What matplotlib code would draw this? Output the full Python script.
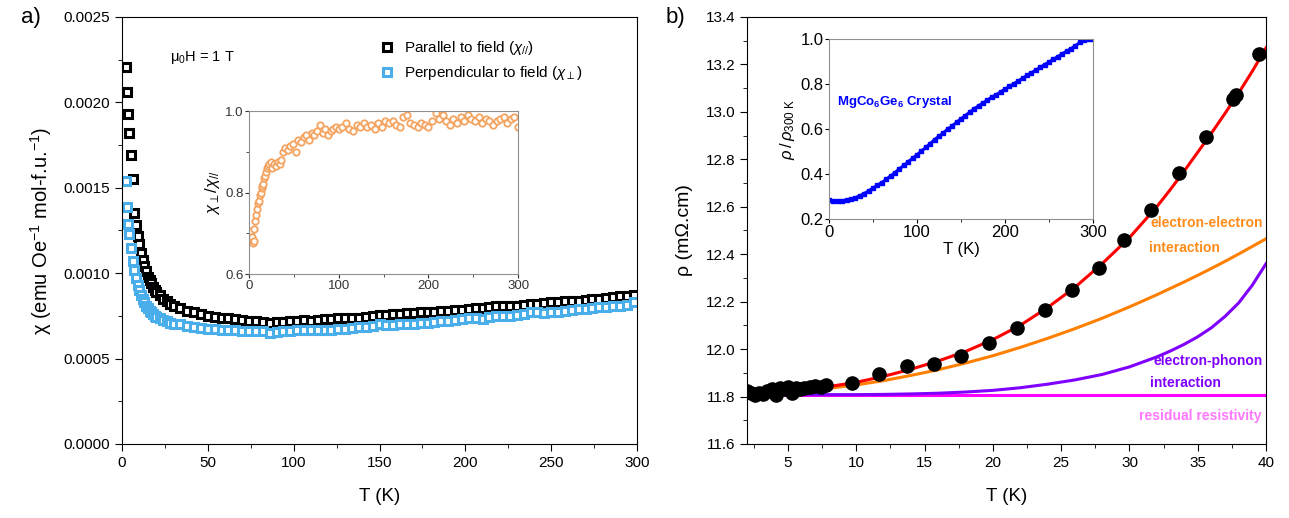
import matplotlib
matplotlib.use("Agg")
import matplotlib.pyplot as plt
import numpy as np
from matplotlib.ticker import MultipleLocator, FormatStrFormatter

plt.rcParams['font.family'] = ['Liberation Sans', 'DejaVu Sans']
plt.rcParams['mathtext.fontset'] = 'custom'
plt.rcParams['mathtext.rm'] = 'Liberation Sans'
plt.rcParams['mathtext.it'] = 'Liberation Sans:italic'
plt.rcParams['mathtext.bf'] = 'Liberation Sans:bold'

# ---- panel a: susceptibility (values in 1e-4 emu/Oe/mol-f.u.) ----
T_chi = [2.4, 3.0, 3.5, 4.2, 5.0, 6.2, 7, 8, 9, 10, 11, 12, 13, 14, 15, 16, 17, 18, 19, 20,
         22, 24, 26, 28, 30, 34, 38, 42, 46, 50, 54, 58, 62, 66, 70, 74, 78, 82, 86, 90,
         94, 98, 102, 106, 110, 114, 118, 122, 126, 130, 134, 138, 142, 146, 150, 154, 158,
         162, 166, 170, 174, 178, 182, 186, 190, 194, 198, 202, 206, 210, 214, 218, 222, 226,
         230, 234, 238, 242, 246, 250, 254, 258, 262, 266, 270, 274, 278, 282, 286, 290, 294, 298]
chi_par = [22.1, 20.6, 19.3, 18.2, 16.9, 15.5, 13.5, 12.8, 12.2, 11.7, 11.2, 10.8, 10.4, 10.1,
           9.8, 9.6, 9.4, 9.2, 9.0, 8.9, 8.7, 8.5, 8.4, 8.2, 8.1, 7.95, 7.8, 7.7, 7.6, 7.5,
           7.45, 7.4, 7.35, 7.3, 7.25, 7.2, 7.2, 7.15, 7.1, 7.15, 7.15, 7.2, 7.2, 7.25, 7.2,
           7.25, 7.3, 7.3, 7.35, 7.35, 7.4, 7.4, 7.45, 7.5, 7.55, 7.55, 7.6, 7.6, 7.65, 7.65,
           7.7, 7.75, 7.75, 7.8, 7.8, 7.85, 7.85, 7.9, 7.95, 7.95, 8.0, 8.05, 8.05, 8.1, 8.1,
           8.15, 8.2, 8.2, 8.25, 8.3, 8.3, 8.35, 8.4, 8.4, 8.45, 8.5, 8.5, 8.55, 8.6, 8.65, 8.65, 8.7]
chi_perp = [15.4, 13.9, 12.9, 12.3, 11.5, 10.7, 10.2, 9.7, 9.3, 9.0, 8.7, 8.5, 8.3, 8.1, 7.95,
            7.8, 7.7, 7.6, 7.5, 7.45, 7.35, 7.25, 7.2, 7.1, 7.05, 7.0, 6.9, 6.85, 6.8, 6.75,
            6.75, 6.7, 6.7, 6.65, 6.6, 6.6, 6.6, 6.6, 6.5, 6.55, 6.6, 6.6, 6.65, 6.65, 6.7,
            6.65, 6.7, 6.7, 6.75, 6.75, 6.8, 6.85, 6.85, 6.9, 7.0, 6.95, 6.95, 7.0, 7.0, 7.05,
            7.1, 7.1, 7.15, 7.2, 7.2, 7.25, 7.3, 7.35, 7.4, 7.3, 7.45, 7.5, 7.5, 7.5, 7.55,
            7.6, 7.7, 7.7, 7.65, 7.75, 7.75, 7.8, 7.85, 7.9, 7.9, 7.95, 8.0, 8.0, 8.05, 8.1, 8.15, 8.3]

# inset a: chi_perp / chi_par
T_ratio = [2, 3, 4, 5, 6, 7, 8, 9, 10, 11, 12, 13, 14, 15, 16, 17, 18, 19, 20, 21, 22, 24, 26,
           28, 30, 32, 34, 36, 38, 40, 43, 46, 49, 52, 55, 58, 61, 64, 67, 70, 73, 76, 79, 82,
           85, 88, 91, 94, 97, 100, 104, 108, 112, 116, 120, 124, 128, 132, 136, 140, 144, 148,
           152, 156, 160, 164, 168, 172, 176, 180, 184, 188, 192, 196, 200, 204, 208, 212, 216,
           220, 224, 228, 232, 236, 240, 244, 248, 252, 256, 260, 264, 268, 272, 276, 280, 284,
           288, 292, 296, 300]
ratio = [0.705, 0.69, 0.675, 0.68, 0.71, 0.73, 0.745, 0.76, 0.775, 0.78, 0.795, 0.80, 0.81,
         0.815, 0.82, 0.835, 0.84, 0.85, 0.86, 0.865, 0.87, 0.875, 0.86, 0.87, 0.865, 0.875,
         0.87, 0.88, 0.90, 0.91, 0.905, 0.915, 0.92, 0.90, 0.93, 0.925, 0.935, 0.94, 0.93,
         0.945, 0.94, 0.95, 0.965, 0.945, 0.955, 0.94, 0.95, 0.955, 0.96, 0.955, 0.96, 0.97,
         0.955, 0.95, 0.965, 0.96, 0.97, 0.96, 0.965, 0.955, 0.97, 0.96, 0.975, 0.97, 0.975,
         0.965, 0.96, 0.985, 0.99, 0.97, 0.965, 0.96, 0.97, 0.965, 0.96, 0.975, 0.995, 0.98,
         0.99, 0.975, 0.965, 0.98, 0.97, 0.985, 0.975, 0.99, 0.98, 0.975, 0.985, 0.97, 0.98,
         0.975, 0.965, 0.975, 0.98, 0.985, 0.97, 0.98, 0.985, 0.96]

# ---- panel b: resistivity (mOhm.cm) ----
T_rho = [2.0, 2.3, 2.6, 2.9, 3.2, 3.5, 3.8, 4.1, 4.4, 4.7, 5.0, 5.3, 5.6, 5.9, 6.2, 6.6, 7.0,
         7.4, 7.8, 9.7, 11.7, 13.7, 15.7, 17.7, 19.7, 21.8, 23.8, 25.8, 27.8, 29.6, 31.6,
         33.6, 35.6, 37.6, 37.8, 39.5]
rho = [11.825, 11.815, 11.805, 11.815, 11.81, 11.825, 11.83, 11.805, 11.835, 11.83, 11.84,
       11.815, 11.835, 11.83, 11.835, 11.84, 11.845, 11.84, 11.85, 11.858, 11.897, 11.928,
       11.939, 11.971, 12.026, 12.09, 12.165, 12.249, 12.341, 12.46, 12.586, 12.742, 12.894,
       13.054, 13.07, 13.244]

T_fit = [2, 4, 6, 8, 10, 12, 14, 16, 18, 20, 22, 24, 26, 28, 30, 32, 33, 34, 35, 36, 37, 38,
         39, 40]
rho_total = [11.815, 11.82, 11.83, 11.842, 11.86, 11.885, 11.915, 11.95, 11.99, 12.04, 12.10,
             12.175, 12.26, 12.36, 12.47, 12.60, 12.673, 12.75, 12.83, 12.91, 12.994, 13.08,
             13.172, 13.27]
rho_ee = [11.81, 11.815, 11.823, 11.835, 11.849, 11.867, 11.889, 11.913, 11.941, 11.972,
          12.007, 12.045, 12.086, 12.13, 12.178, 12.229, 12.256, 12.283, 12.311, 12.34,
          12.37, 12.401, 12.433, 12.465]
rho_ep = [11.808, 11.808, 11.808, 11.808, 11.808, 11.809, 11.811, 11.814, 11.819, 11.826,
          11.837, 11.852, 11.87, 11.893, 11.925, 11.967, 11.992, 12.02, 12.052, 12.09, 12.138,
          12.195, 12.27, 12.36]
rho_0 = [11.808] * len(T_fit)

# inset b: rho / rho_300K
T_norm = list(range(0, 301, 5))
rho_norm = [0.283, 0.281, 0.279, 0.281, 0.284, 0.287, 0.295, 0.303, 0.313, 0.325, 0.337,
            0.350, 0.362, 0.376, 0.391, 0.406, 0.423, 0.438, 0.454, 0.470, 0.485, 0.502,
            0.518, 0.535, 0.553, 0.568, 0.583, 0.600, 0.614, 0.630, 0.645, 0.660, 0.675,
            0.690, 0.703, 0.716, 0.728, 0.742, 0.752, 0.765, 0.777, 0.790, 0.801, 0.813,
            0.826, 0.838, 0.850, 0.862, 0.874, 0.886, 0.898, 0.910, 0.922, 0.934, 0.946,
            0.957, 0.970, 0.985, 0.995, 1.0, 1.0]

fig = plt.figure(figsize=(12.89, 5.18), dpi=100)

# ---------- panel a ----------
ax1 = fig.add_axes([0.0947, 0.1429, 0.3995, 0.8243])
ax1.plot(T_chi, np.array(chi_par) * 1e-4, 's', ms=5.5, mfc='white', mec='black', mew=2.2,
         label=r'Parallel to field ($\chi_{//}$)')
ax1.plot(T_chi, np.array(chi_perp) * 1e-4, 's', ms=5.5, mfc='white', mec='#4AAEEA', mew=2.2,
         label=r'Perpendicular to field ($\chi_{\perp}$)')
ax1.set_xlim(0, 300)
ax1.set_ylim(0, 0.0025)
ax1.xaxis.set_major_locator(MultipleLocator(50))
ax1.xaxis.set_minor_locator(MultipleLocator(25))
ax1.yaxis.set_major_locator(MultipleLocator(0.0005))
ax1.yaxis.set_minor_locator(MultipleLocator(0.00025))
ax1.yaxis.set_major_formatter(FormatStrFormatter('%.4f'))
ax1.tick_params(which='both', direction='out', labelsize=11, top=False, right=False)
ax1.tick_params(which='major', length=5)
ax1.tick_params(which='minor', length=3)
ax1.set_xlabel('T (K)', fontsize=13.5, labelpad=13)
ax1.set_ylabel(r'χ (emu Oe$^{-1}$ mol-f.u.$^{-1}$)', fontsize=14.5, labelpad=7)
ax1.text(0.093, 0.905, r'μ$_0$H = 1 T', transform=ax1.transAxes, fontsize=10.5, va='center')
ax1.legend(loc='upper left', bbox_to_anchor=(0.47, 0.98), frameon=False, fontsize=11,
           handletextpad=0.5, handlelength=1.2, labelspacing=0.45, markerscale=1.0)

ins1 = fig.add_axes([0.1932, 0.4710, 0.2087, 0.3147])
ins1.plot(T_ratio, ratio, 'o', ms=4.6, mfc='white', mec='#F4A460', mew=1.3)
ins1.set_xlim(0, 300)
ins1.set_ylim(0.6, 1.0)
ins1.xaxis.set_major_locator(MultipleLocator(100))
ins1.xaxis.set_minor_locator(MultipleLocator(50))
ins1.yaxis.set_major_locator(MultipleLocator(0.2))
ins1.yaxis.set_minor_locator(MultipleLocator(0.1))
ins1.yaxis.set_major_formatter(FormatStrFormatter('%.1f'))
ins1.tick_params(which='both', direction='out', labelsize=9.5, colors='#333333', pad=1)
ins1.tick_params(which='major', length=3)
ins1.tick_params(which='minor', length=2)
for s in ins1.spines.values():
    s.set_color('#909090')
ins1.set_ylabel(r'$\chi_{\perp}/\chi_{//}$', fontsize=12, labelpad=2)

# ---------- panel b ----------
ax2 = fig.add_axes([0.5795, 0.1429, 0.4027, 0.8243])
ax2.plot(T_fit, rho_0, color='#FF00FF', lw=2.2, zorder=2)
ax2.plot(T_fit, rho_ep, color='#7F00FF', lw=2.2, zorder=3)
ax2.plot(T_fit, rho_ee, color='#FF8000', lw=2.2, zorder=3)
ax2.plot(T_fit, rho_total, color='#FF0000', lw=2.2, zorder=3)
ax2.plot(T_rho, rho, 'o', color='black', ms=9.5, zorder=4)
ax2.set_xlim(2, 40)
ax2.set_ylim(11.6, 13.4)
ax2.xaxis.set_major_locator(MultipleLocator(5))
ax2.xaxis.set_minor_locator(MultipleLocator(2.5))
ax2.yaxis.set_major_locator(MultipleLocator(0.2))
ax2.yaxis.set_minor_locator(MultipleLocator(0.1))
ax2.yaxis.set_major_formatter(FormatStrFormatter('%.1f'))
ax2.tick_params(which='both', direction='out', labelsize=11, top=False, right=False)
ax2.tick_params(which='major', length=5)
ax2.tick_params(which='minor', length=3)
ax2.set_xlabel('T (K)', fontsize=13.5, labelpad=13)
ax2.set_ylabel(r'ρ (mΩ.cm)', fontsize=14, labelpad=9)

ax2.text(39.75, 12.532, 'electron-electron', color='#FF8C1A', fontsize=10, fontweight='bold',
         ha='right', va='center')
ax2.text(31.4, 12.426, 'interaction', color='#FF8C1A', fontsize=10, fontweight='bold',
         ha='left', va='center')
ax2.text(39.75, 11.95, 'electron-phonon', color='#7F00FF', fontsize=10, fontweight='bold',
         ha='right', va='center')
ax2.text(31.5, 11.855, 'interaction', color='#7F00FF', fontsize=10, fontweight='bold',
         ha='left', va='center')
ax2.text(39.7, 11.716, 'residual resistivity', color='#FF77FF', fontsize=10, fontweight='bold',
         ha='right', va='center')

ins2 = fig.add_axes([0.6431, 0.5772, 0.2049, 0.3475])
ins2.plot(T_norm, rho_norm, '-s', color='#0000FF', lw=2.2, ms=2.8)
ins2.set_xlim(0, 300)
ins2.set_ylim(0.2, 1.0)
ins2.xaxis.set_major_locator(MultipleLocator(100))
ins2.xaxis.set_minor_locator(MultipleLocator(50))
ins2.yaxis.set_major_locator(MultipleLocator(0.2))
ins2.yaxis.set_major_formatter(FormatStrFormatter('%.1f'))
ins2.tick_params(which='both', direction='out', labelsize=12, pad=1)
ins2.tick_params(which='major', length=3)
ins2.tick_params(which='minor', length=2)
for s in ins2.spines.values():
    s.set_color('#909090')
ins2.set_xlabel('T (K)', fontsize=12, labelpad=2)
ins2.set_ylabel(r'$\rho\,/\,\rho_{300\ \mathrm{K}}$', fontsize=12, labelpad=2)
ins2.text(0.03, 0.65, r'MgCo$_\mathbf{6}$Ge$_\mathbf{6}$ Crystal', transform=ins2.transAxes,
          color='#0000FF', fontsize=9.5, fontweight='bold', va='center')

fig.text(0.016, 0.967, 'a)', fontsize=16, va='center')
fig.text(0.516, 0.967, 'b)', fontsize=16, va='center')

plt.savefig('out.png', dpi=100)
